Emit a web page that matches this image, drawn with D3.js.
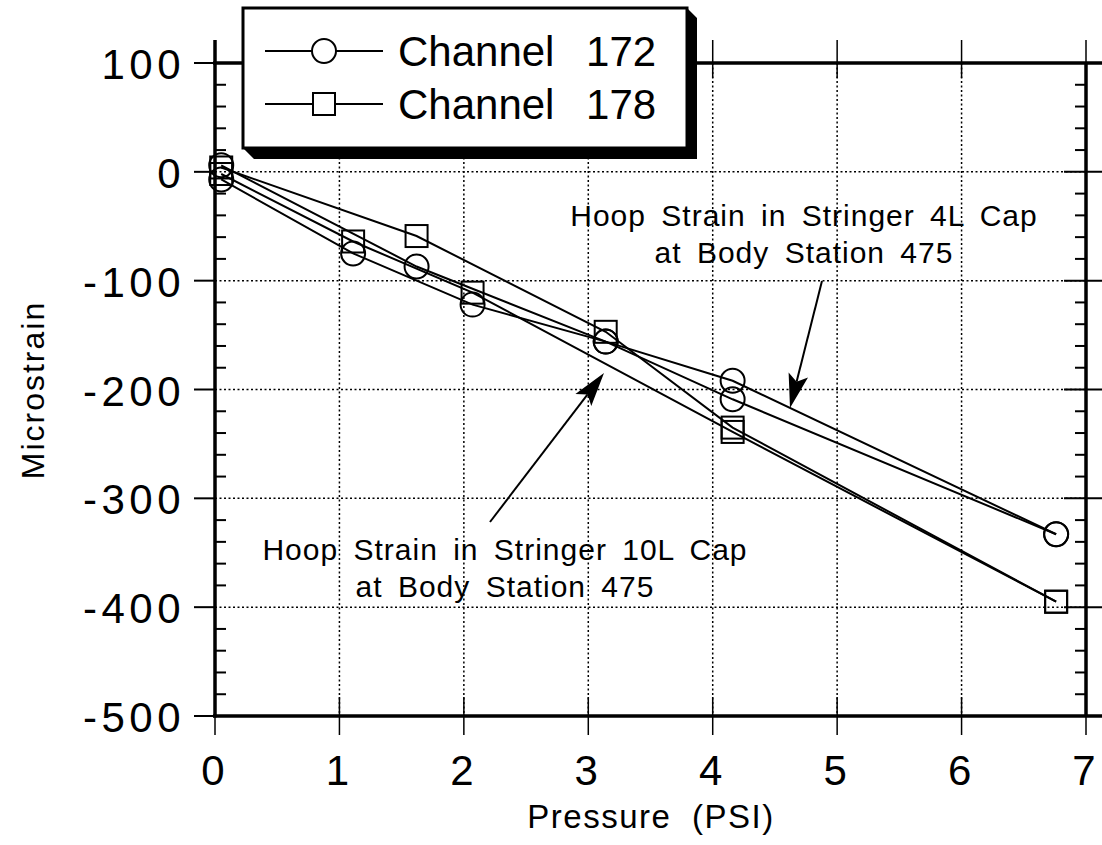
<!DOCTYPE html>
<html>
<head>
<meta charset="utf-8">
<script src="https://cdnjs.cloudflare.com/ajax/libs/d3/7.8.5/d3.min.js"></script>
<style>
body { margin: 0; background: #fff; }
svg { display: block; font-family: "Liberation Sans", Arial, Helvetica, sans-serif; }
</style>
</head>
<body>
<div id="chart"></div>
<script>
// Channel 172 (circles) - two load runs
const ch172RunA_psi = [0.05, 1.62, 3.14, 4.16, 6.76];
const ch172RunA_strain = [6, -87, -156, -192, -333];
const ch172RunB_psi = [0.05, 1.11, 2.07, 3.14, 4.16, 6.76];
const ch172RunB_strain = [-7, -75, -122, -156, -209, -333];

// Channel 178 (squares) - two load runs
const ch178RunA_psi = [0.05, 1.62, 3.14, 4.16, 6.76];
const ch178RunA_strain = [4, -59, -147, -235, -395];
const ch178RunB_psi = [0.05, 1.11, 2.07, 4.16, 6.76];
const ch178RunB_strain = [-2, -64, -111, -239, -395];

const xTicks = [0, 1, 2, 3, 4, 5, 6, 7];
const yTicks = [100, 0, -100, -200, -300, -400, -500];
const yMinorTicks = d3.range(-500, 101, 20);
const legendLabels = ["Channel 172", "Channel 178"];

class Plot {
	constructor() {
		this.width = 1102;
		this.height = 845;
		this.x = d3.scaleLinear().domain([0, 7]).range([215, 1086]);
		this.y = d3.scaleLinear().domain([-500, 100]).range([716, 63]);
		this.runs = [
			{ psi: ch172RunA_psi, strain: ch172RunA_strain, shape: "circle" },
			{ psi: ch172RunB_psi, strain: ch172RunB_strain, shape: "circle" },
			{ psi: ch178RunA_psi, strain: ch178RunA_strain, shape: "square" },
			{ psi: ch178RunB_psi, strain: ch178RunB_strain, shape: "square" }
		];
		this.drawPlot();
	}

	drawPlot() {
		this.svg = d3.select("#chart").append("svg")
			.attr("width", this.width)
			.attr("height", this.height);

		this.drawGrid();
		this.drawData();
		this.drawFrame();
		this.drawLegend();
		this.drawNotes();
	}

	drawGrid() {
		let x = this.x, y = this.y;
		let g = this.svg.append("g").attr("class", "grid")
			.attr("stroke", "#000").attr("stroke-width", 1.5).attr("stroke-dasharray", "2,2.5");

		g.selectAll(".vgrid").data(xTicks.slice(1, -1)).enter().append("line")
			.attr("x1", d => x(d)).attr("x2", d => x(d))
			.attr("y1", y(100)).attr("y2", y(-500));

		g.selectAll(".hgrid").data(yTicks.slice(1, -1)).enter().append("line")
			.attr("x1", x(0)).attr("x2", x(7))
			.attr("y1", d => y(d)).attr("y2", d => y(d));
	}

	drawData() {
		let x = this.x, y = this.y;
		let line = d3.line().x(d => x(d[0])).y(d => y(d[1]));
		let g = this.svg.append("g").attr("class", "data");

		this.runs.forEach(function(run) {
			let pts = run.psi.map((p, i) => [p, run.strain[i]]);
			g.append("path")
				.attr("d", line(pts))
				.attr("fill", "none").attr("stroke", "#000").attr("stroke-width", 2);

			if (run.shape == "circle") {
				g.selectAll(null).data(pts).enter().append("circle")
					.attr("cx", d => x(d[0])).attr("cy", d => y(d[1])).attr("r", 12)
					.attr("fill", "none").attr("stroke", "#000").attr("stroke-width", 2);
			} else {
				g.selectAll(null).data(pts).enter().append("rect")
					.attr("x", d => x(d[0]) - 11).attr("y", d => y(d[1]) - 11)
					.attr("width", 22).attr("height", 22)
					.attr("fill", "none").attr("stroke", "#000").attr("stroke-width", 2);
			}
		});
	}

	drawFrame() {
		let x = this.x, y = this.y;
		let g = this.svg.append("g").attr("class", "frame").attr("stroke", "#000");

		// heavy border
		g.append("line").attr("x1", x(0)).attr("x2", x(0)).attr("y1", 40).attr("y2", y(-500) + 1.5).attr("stroke-width", 3.5);
		g.append("line").attr("x1", x(0) - 2).attr("x2", 1102).attr("y1", y(-500)).attr("y2", y(-500)).attr("stroke-width", 3.5);
		g.append("line").attr("x1", x(0) - 2).attr("x2", 1102).attr("y1", y(100)).attr("y2", y(100)).attr("stroke-width", 3.5);
		g.append("line").attr("x1", x(7)).attr("x2", x(7)).attr("y1", y(100)).attr("y2", y(-500)).attr("stroke-width", 3.5);

		// x ticks crossing bottom and top
		g.selectAll(".xtb").data(xTicks).enter().append("line")
			.attr("x1", d => x(d)).attr("x2", d => x(d))
			.attr("y1", y(-500) - 19).attr("y2", y(-500) + 19).attr("stroke-width", 1.5);
		g.selectAll(".xtt").data(xTicks).enter().append("line")
			.attr("x1", d => x(d)).attr("x2", d => x(d))
			.attr("y1", y(100) - 23).attr("y2", y(100) + 15).attr("stroke-width", 1.5);

		// y ticks: major out on left, across on right; minor inward
		g.selectAll(".ytl").data(yTicks).enter().append("line")
			.attr("x1", x(0) - 21).attr("x2", x(0))
			.attr("y1", d => y(d)).attr("y2", d => y(d)).attr("stroke-width", 2);
		g.selectAll(".ytr").data(yTicks).enter().append("line")
			.attr("x1", x(7) - 22).attr("x2", 1102)
			.attr("y1", d => y(d)).attr("y2", d => y(d)).attr("stroke-width", 2);
		let minors = yMinorTicks.filter(d => d % 100 != 0);
		g.selectAll(".ymL").data(minors).enter().append("line")
			.attr("x1", x(0)).attr("x2", x(0) + 11)
			.attr("y1", d => y(d)).attr("y2", d => y(d)).attr("stroke-width", 2);
		g.selectAll(".ymR").data(minors).enter().append("line")
			.attr("x1", x(7) - 11).attr("x2", x(7))
			.attr("y1", d => y(d)).attr("y2", d => y(d)).attr("stroke-width", 2);

		// tick labels
		this.svg.append("g").selectAll("text").data(xTicks).enter().append("text")
			.attr("x", d => x(d) - 2).attr("y", 785)
			.attr("text-anchor", "middle").attr("font-size", 42)
			.text(d => d);
		this.svg.append("g").selectAll("text").data(yTicks).enter().append("text")
			.attr("x", 185).attr("y", d => y(d) + 16)
			.attr("text-anchor", "end").attr("font-size", 42).attr("letter-spacing", "4.5px")
			.text(d => d);

		// axis titles
		this.svg.append("text")
			.attr("x", 651).attr("y", 828)
			.attr("text-anchor", "middle").attr("font-size", 33)
			.attr("letter-spacing", "1.5px").attr("word-spacing", "10px")
			.text("Pressure (PSI)");
		this.svg.append("text")
			.attr("transform", "translate(44,390) rotate(-90)")
			.attr("text-anchor", "middle").attr("font-size", 32).attr("letter-spacing", "2px")
			.text("Microstrain");
	}

	drawLegend() {
		let g = this.svg.append("g").attr("class", "legend");
		g.append("polygon")
			.attr("points", "687,8 697,18 697,159 254,159 243,148 687,148")
			.attr("fill", "#000");
		g.append("rect")
			.attr("x", 243).attr("y", 8).attr("width", 444).attr("height", 140)
			.attr("fill", "#fff").attr("stroke", "#000").attr("stroke-width", 3);

		let rows = g.selectAll(".row").data(legendLabels).enter().append("g")
			.attr("transform", (d, i) => "translate(0," + (51 + i * 53) + ")");
		rows.append("line").attr("x1", 265).attr("x2", 383)
			.attr("stroke", "#000").attr("stroke-width", 2);
		rows.filter((d, i) => i == 0).append("circle")
			.attr("cx", 324).attr("r", 12)
			.attr("fill", "#fff").attr("stroke", "#000").attr("stroke-width", 2);
		rows.filter((d, i) => i == 1).append("rect")
			.attr("x", 313).attr("y", -11).attr("width", 22).attr("height", 22)
			.attr("fill", "#fff").attr("stroke", "#000").attr("stroke-width", 2);
		rows.append("text")
			.attr("x", 398).attr("y", 15)
			.attr("font-size", 42).attr("word-spacing", "20px")
			.text(d => d);
	}

	drawNotes() {
		let notes = [
			{ lines: ["Hoop Strain in Stringer 4L Cap", "at Body Station 475"], cx: 804, y: 226 },
			{ lines: ["Hoop Strain in Stringer 10L Cap", "at Body Station 475"], cx: 505, y: 560 }
		];
		let g = this.svg.append("g").attr("class", "notes");
		notes.forEach(function(n) {
			n.lines.forEach(function(t, i) {
				g.append("text")
					.attr("x", n.cx).attr("y", n.y + i * 37)
					.attr("text-anchor", "middle").attr("font-size", 30)
					.attr("letter-spacing", "1px").attr("word-spacing", "6px")
					.text(t);
			});
		});

		this.drawArrow(g, [822, 281], [790, 408]);
		this.drawArrow(g, [490, 522], [604, 373]);
	}

	drawArrow(g, tail, tip) {
		let dx = tip[0] - tail[0], dy = tip[1] - tail[1];
		let len = Math.sqrt(dx * dx + dy * dy);
		let ux = dx / len, uy = dy / len;
		let px = -uy, py = ux;
		let headLen = 34, half = 10, notch = 7;
		let bx = tip[0] - ux * headLen, by = tip[1] - uy * headLen;
		g.append("line")
			.attr("x1", tail[0]).attr("y1", tail[1])
			.attr("x2", bx + ux * notch).attr("y2", by + uy * notch)
			.attr("stroke", "#000").attr("stroke-width", 2);
		let head = [
			tip,
			[bx + px * half, by + py * half],
			[bx + ux * notch, by + uy * notch],
			[bx - px * half, by - py * half]
		];
		g.append("polygon")
			.attr("points", head.map(p => p.join(",")).join(" "))
			.attr("fill", "#000");
	}
}

new Plot();
</script>
</body>
</html>
